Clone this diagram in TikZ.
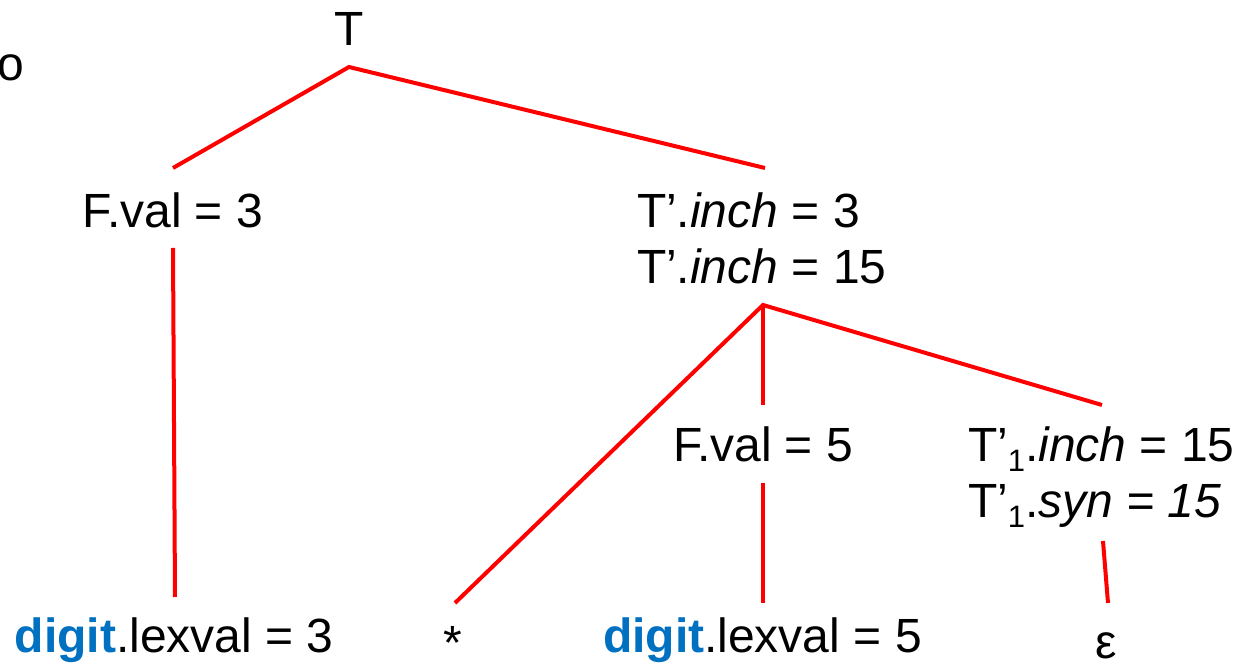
\documentclass[tikz,border=0pt]{standalone}
\usepackage{fontspec}
\setmainfont{Liberation Sans}
\definecolor{digblue}{RGB}{0,112,192}
\newcommand{\subone}{\raisebox{-5pt}{\fontsize{15.5}{15.5}\selectfont 1}}
\newcommand{\dig}{\textcolor{digblue}{\textbf{digit}}}
\begin{document}
\begin{tikzpicture}[x=0.5pt,y=-0.5pt,
  lbl/.style={inner sep=0pt,outer sep=0pt,anchor=base west,font=\fontsize{24}{28.8}\selectfont},
  edge/.style={draw=red,line width=2pt}]
\useasboundingbox (0,0) rectangle (1249,667);
% labels
\node[lbl,anchor=base] (o) at (11,81) {o};
\node[lbl,anchor=base] (T) at (349,46) {T};
\node[lbl] (F3) at (83,228) {F.val = 3};
\node[lbl] (Ti3) at (637,228) {T’.\textit{inch} = 3};
\node[lbl] (Ti15) at (637,284) {T’.\textit{inch} = 15};
\node[lbl] (F5) at (673,462) {F.val = 5};
\node[lbl] (T1i) at (968,462) {T’\subone.\textit{inch} = 15};
\node[lbl] (T1s) at (968,518) {T’\subone.\textit{syn = 15}};
\node[lbl] (d3) at (15,653) {\dig.lexval = 3};
\node[lbl,anchor=base] (star) at (453,660) {*};
\node[lbl,anchor=base] (eps) at (1106,659) {ε};
\node[lbl] (d5) at (603,653) {\dig.lexval = 5};
% connector ends
\coordinate (cT) at (349,67);
\coordinate (cFa) at (173,168);
\coordinate (cTa) at (765,168);
\coordinate (cFb) at (173,248);
\coordinate (cD3) at (175,597);
\coordinate (cTb) at (763,305);
\coordinate (cStar) at (455,603);
\coordinate (cF5a) at (763,405);
\coordinate (cT1a) at (1102,405);
\coordinate (cF5b) at (763,483);
\coordinate (cD5) at (763,603);
\coordinate (cT1b) at (1103,541);
\coordinate (cEps) at (1108,603);
% connectors
\draw[edge] (cFa) -- (cT) -- (cTa);
\draw[edge] (cFb) -- (cD3);
\draw[edge] (cStar) -- (cTb) -- (cT1a);
\draw[edge] (cTb) -- (cF5a);
\draw[edge] (cF5b) -- (cD5);
\draw[edge] (cT1b) -- (cEps);
\end{tikzpicture}
\end{document}
